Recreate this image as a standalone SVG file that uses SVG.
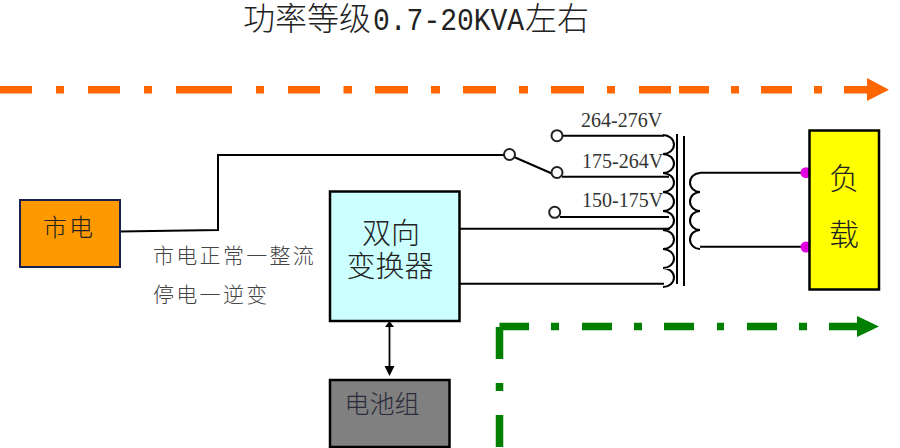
<svg xmlns="http://www.w3.org/2000/svg" width="900" height="448" viewBox="0 0 900 448">
<style>
.cjk{font-family:"Noto Sans CJK SC","Noto Sans CJK JP",sans-serif;font-weight:300}
.box{stroke:#000;stroke-width:2.5}
.wire{fill:none;stroke:#000;stroke-width:2}
.thin{fill:none;stroke:#000;stroke-width:1.8}
.coil{fill:none;stroke:#000;stroke-width:2}
.orange{fill:none;stroke:#FF6600;stroke-width:7.5}
.green{fill:none;stroke:#008000;stroke-width:7.5}
.term{fill:#fff;stroke:#222;stroke-width:2}
.volt{font-family:"Liberation Serif",serif;font-size:20px;fill:#333}
.lbl{fill:#222}
.note{font-size:21px;fill:#444;letter-spacing:2.300px}
.mono{font-family:"Liberation Mono",monospace;font-size:32px;fill:#222}
</style>
<rect width="900" height="448" fill="#fff"/>
<g id="title">
<text x="243" y="30" class="cjk" font-size="32" fill="#222">功率等级</text>
<text transform="translate(373 30) scale(.875 1)" class="mono">0.7-20KVA</text>
<text x="525" y="30" class="cjk" font-size="32" fill="#222">左右</text>
</g>
<g id="flow-orange">
<path class="orange" d="M0 89.700H32M56 89.700H64M88 89.700H120M144 89.700H152M176 89.700H232M256 89.700H264M288 89.700H320M343.500 89.700H352M375 89.700H408M431 89.700H440M463 89.700H496M519 89.700H528M551 89.700H584M607 89.700H615M639 89.700H671M679 89.700H709M731 89.700H739M761 89.700H792M814 89.700H822M844 89.700H868"/>
<polygon points="867,78 889,89.700 867,101" fill="#FF6600"/>
</g>
<g id="flow-green">
<path class="green" d="M499.500 447V415M499.500 391V383M499.500 359V327M499.500 326.500H529M551 326.500H559M582 326.500H612M634 326.500H642M664 326.500H694M717 326.500H724M747 326.500H777M799 326.500H807M829 326.500H858"/>
<polygon points="857,316 879,326.500 857,337" fill="#008000"/>
</g>
<g id="connectors">
<path class="wire" d="M120 231.500L218 230V155H504"/>
<path class="wire" d="M514 157L553 174"/>
<path class="wire" d="M562 135.700H664M562 176.700H669M560 217H669M460 228.700H670M458 283.700H664"/>
<path class="wire" d="M700 172.700H809M700 246.700H809"/>
<path class="thin" d="M389.500 326V368"/>
<polygon points="389.500,321 394,327 385,327" fill="#000"/>
<polygon points="384.500,366 394.500,366 389.500,376" fill="#000"/>
</g>
<g id="switch">
<circle class="term" cx="509.500" cy="154.500" r="5.500"/>
<circle class="term" cx="557" cy="135.700" r="5.500"/>
<circle class="term" cx="557" cy="172.500" r="5.500"/>
<circle class="term" cx="554.700" cy="212.300" r="5.500"/>
</g>
<g id="transformer">
<path class="coil" d="M663 135a11 9.500 0 0 1 0 19a11 9.500 0 0 1 0 19a11 9.500 0 0 1 0 19a11 9.500 0 0 1 0 19a11 9.500 0 0 1 0 19a11 9.500 0 0 1 0 19a11 9.500 0 0 1 0 19a11 9.500 0 0 1 0 19"/>
<path class="wire" d="M677 134V284M684 136V286"/>
<path class="coil" d="M700 173a10 9.500 0 0 0 0 19a10 9.500 0 0 0 0 19a10 9.500 0 0 0 0 19a10 9.500 0 0 0 0 19"/>
</g>
<g id="voltages">
<text class="volt" x="581" y="127">264-276V</text>
<text class="volt" x="582" y="168">175-264V</text>
<text class="volt" x="582" y="207">150-175V</text>
</g>
<g id="mains">
<rect x="20" y="200" width="100" height="67" fill="#FF9900" stroke="#1a2050" stroke-width="2"/>
<text class="cjk lbl" x="69" y="236" text-anchor="middle" font-size="24" letter-spacing="2">市电</text>
</g>
<g id="mode-note" class="cjk">
<text class="note" x="153" y="263">市电正常一整流</text>
<text class="note" x="153" y="302">停电一逆变</text>
</g>
<g id="converter">
<rect class="box" x="330" y="191.500" width="129.500" height="129.500" fill="#CCFFFF"/>
<text class="cjk lbl" text-anchor="middle" font-size="29"><tspan x="391" y="244">双向</tspan><tspan x="390" y="277">变换器</tspan></text>
</g>
<g id="battery">
<rect class="box" x="330" y="380" width="119.500" height="67" fill="#808080"/>
<text class="cjk" x="382" y="413" text-anchor="middle" font-size="25" fill="#2a2a3a">电池组</text>
</g>
<g id="load">
<circle cx="806" cy="172.700" r="5.500" fill="#E000E0"/>
<circle cx="806" cy="247" r="5.500" fill="#E000E0"/>
<rect x="809.500" y="130.500" width="69.500" height="159" fill="#FFFF00" stroke="#000" stroke-width="2.500"/>
<text class="cjk lbl" x="844" y="189" text-anchor="middle" font-size="30">负</text>
<text class="cjk lbl" x="844" y="245" text-anchor="middle" font-size="30">载</text>
</g>
</svg>
